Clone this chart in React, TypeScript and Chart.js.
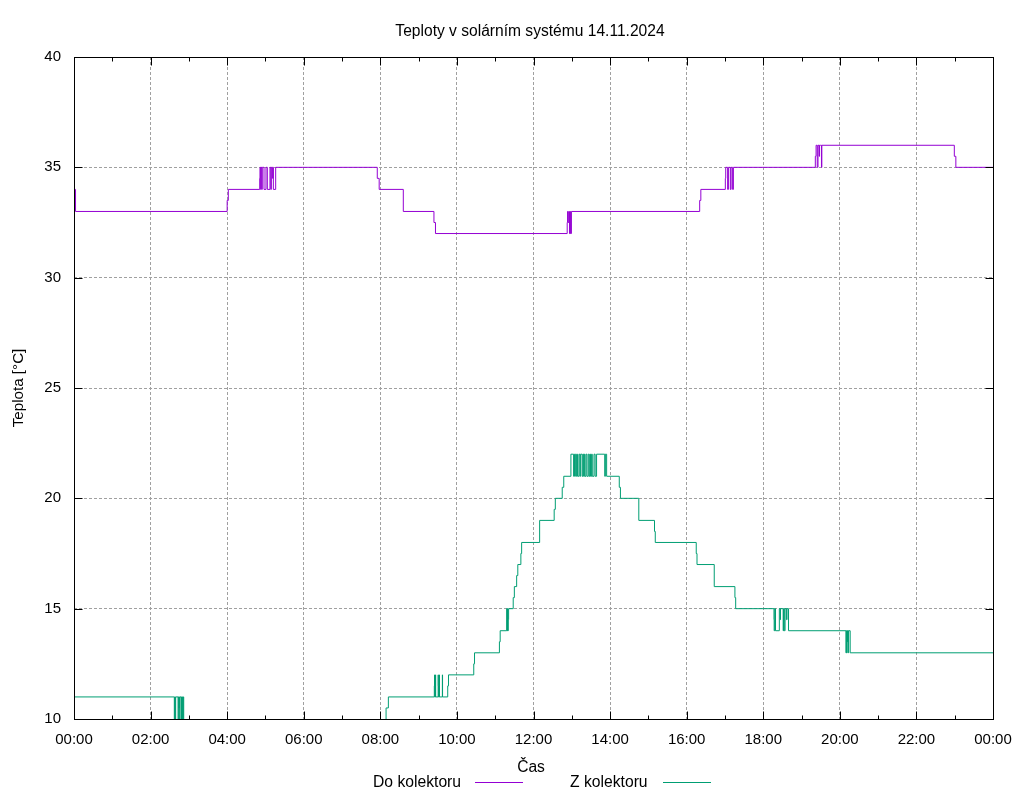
import React, { useEffect, useRef } from "react";
import { Chart, registerables } from "chart.js";

Chart.register(...registerables);

const chartTitle = "Teploty v solárním systému 14.11.2024";
const xAxisTitle = "Čas";
const yAxisTitle = "Teplota [°C]";

const xTickHours = [0, 2, 4, 6, 8, 10, 12, 14, 16, 18, 20, 22, 24];
const xTickLabels = ["00:00", "02:00", "04:00", "06:00", "08:00", "10:00", "12:00", "14:00", "16:00", "18:00", "20:00", "22:00", "00:00"];
const minorTickHours = [1, 3, 5, 7, 9, 11, 13, 15, 17, 19, 21, 23];
const yMin = 10;
const yMax = 40;
const yStep = 5;

const seriesNames = ["Do kolektoru", "Z kolektoru"];
const seriesColors = ["#9400d3", "#009e73"];

// "Do kolektoru": time of change (hours) and new value (°C)
const doTimes = [
  0, 0.04, 4.0, 4.03, 4.85, 4.857, 4.875, 4.885, 4.905, 4.915, 4.962,
  5.014, 5.049, 5.118, 5.14, 5.153, 5.188, 5.195, 5.206, 5.267, 7.92, 7.97, 8.6,
  9.4, 9.44, 12.88, 12.89, 12.9, 12.92, 12.94, 12.96, 12.97, 12.99, 16.34, 16.37, 17.01,
  17.02, 17.07, 17.09, 17.14, 17.16, 17.2, 17.22, 19.36, 19.38, 19.41, 19.43, 19.46, 19.47,
  19.5, 19.52, 19.53, 22.99, 23.03, 24,
];
const doValues = [
  34, 33, 33.5, 34, 34.5, 35, 34, 35, 34, 35, 34,
  35, 34, 35, 34, 35, 34.5, 35, 34, 35, 34.5, 34, 33,
  32.5, 32, 32.5, 33, 32.5, 33, 32, 33, 32, 33, 33.5, 34, 34.5,
  35, 34, 35, 34, 35, 34, 35, 35.5, 36, 35, 36, 35.5, 36,
  36, 35, 36, 35.5, 35, 35,
];

// "Z kolektoru": time of change (hours) and new value (°C)
const zTimes = [
  0, 2.62, 2.63, 2.645, 2.655, 2.72, 2.725, 2.74, 2.75, 2.76, 2.765, 2.8, 2.81, 2.82, 2.83,
  2.845, 2.85, 2.865, 8.15, 8.21, 9.41, 9.415, 9.42, 9.44, 9.445, 9.51, 9.515, 9.52, 9.54,
  9.545, 9.62, 9.625, 9.76, 9.78, 10.44, 10.46, 11.11, 11.13, 11.3, 11.31, 11.32, 11.33,
  11.34, 11.35, 11.47, 11.5, 11.56, 11.59, 11.67, 11.69, 12.16, 12.54, 12.57, 12.75, 12.79,
  12.977, 13.047, 13.07, 13.1, 13.125, 13.15, 13.186, 13.21, 13.23, 13.27, 13.29, 13.31,
  13.325, 13.34, 13.37, 13.395, 13.43, 13.455, 13.475, 13.49, 13.517, 13.535, 13.58, 13.61,
  13.647, 13.86, 13.877, 13.91, 14.24, 14.27, 14.75, 15.16, 15.18, 16.25, 16.27, 16.72,
  17.26, 17.28, 18.28, 18.285, 18.3, 18.32, 18.42, 18.445, 18.45, 18.52, 18.53, 18.55,
  18.57, 18.61, 18.62, 18.66, 20.16, 20.17, 20.18, 20.19, 20.2, 20.21, 20.22, 20.23, 20.27, 24,
];
const zValues = [
  11, 9, 11, 9, 11, 9, 11, 10.5, 11, 9, 11, 9, 11, 9, 11,
  9, 11, 9, 10.5, 11, 11.5, 12, 11, 12, 11, 12, 11.5, 11, 12,
  11, 12, 11, 11.5, 12, 12.5, 13, 13.5, 14, 15, 14, 15, 14,
  14.5, 15, 15.5, 16, 16.5, 17, 17.5, 18, 19, 19.5, 20, 20.5, 21,
  22, 21, 22, 21, 22, 21, 22, 21, 22, 21, 22, 21,
  22, 21, 22, 21, 22, 21, 22, 21, 22, 21, 22, 21,
  22, 21, 22, 21, 20.5, 20, 19, 18.5, 18, 17.5, 17, 16,
  15.5, 15, 14.5, 14, 15, 14, 15, 14.5, 15, 14, 15, 14,
  15, 14.5, 15, 14, 13, 14, 13, 14, 13.5, 14, 13, 14, 13, 13,
];

const FONT = "'Liberation Sans', Arial, sans-serif";

const decorPlugin = {
  id: "gnuplotDecor",
  afterDraw(chart: any) {
    const { ctx, chartArea: a, scales } = chart;
    const xs = scales.x;
    const ys = scales.y;
    ctx.save();
    ctx.strokeStyle = "#000";
    ctx.lineWidth = 1;
    ctx.setLineDash([]);
    ctx.beginPath();
    const bottom = Math.round(a.bottom) + 0.5;
    const top = Math.round(a.top) + 0.5;
    const left = Math.round(a.left) + 0.5;
    const right = Math.round(a.right) + 0.5;
    xTickHours.forEach((h) => {
      const px = Math.round(xs.getPixelForValue(h)) + 0.5;
      ctx.moveTo(px, bottom);
      ctx.lineTo(px, bottom - 8);
      ctx.moveTo(px, top);
      ctx.lineTo(px, top + 8);
    });
    minorTickHours.forEach((h) => {
      const px = Math.round(xs.getPixelForValue(h)) + 0.5;
      ctx.moveTo(px, bottom);
      ctx.lineTo(px, bottom - 4);
      ctx.moveTo(px, top);
      ctx.lineTo(px, top + 4);
    });
    ys.ticks.forEach((t: any) => {
      const py = Math.round(ys.getPixelForValue(t.value)) + 0.5;
      ctx.moveTo(left, py);
      ctx.lineTo(left + 8, py);
      ctx.moveTo(right, py);
      ctx.lineTo(right - 8, py);
    });
    ctx.stroke();
    ctx.strokeRect(left, top, right - left, bottom - top);

    ctx.fillStyle = "#000";
    // title
    ctx.font = `15.6px ${FONT}`;
    ctx.textAlign = "center";
    ctx.textBaseline = "alphabetic";
    ctx.fillText(chartTitle, 530, 35.5);
    // x title
    ctx.fillText(xAxisTitle, 531, 771.5);
    // y title
    ctx.save();
    ctx.font = `15.2px ${FONT}`;
    ctx.translate(19, (a.top + a.bottom) / 2);
    ctx.rotate(-Math.PI / 2);
    ctx.textBaseline = "middle";
    ctx.fillText(yAxisTitle, 0, 0);
    ctx.restore();

    // legend: text then line sample
    const legendItems = [
      { textX: 373, lineX1: 475, lineX2: 523 },
      { textX: 570, lineX1: 663, lineX2: 711 },
    ];
    ctx.font = `15.7px ${FONT}`;
    chart.data.datasets.forEach((ds: any, i: number) => {
      const it = legendItems[i];
      ctx.textAlign = "left";
      ctx.textBaseline = "alphabetic";
      ctx.fillStyle = "#000";
      ctx.fillText(ds.label, it.textX, 787);
      ctx.strokeStyle = ds.borderColor;
      ctx.beginPath();
      ctx.moveTo(it.lineX1, 782.5);
      ctx.lineTo(it.lineX2, 782.5);
      ctx.stroke();
    });
    ctx.restore();
  },
};

export default function App() {
  const canvasRef = useRef<HTMLCanvasElement | null>(null);

  useEffect(() => {
    const canvas = canvasRef.current;
    if (!canvas) return;
    const chart = new Chart(canvas, {
      type: "line",
      data: {
        datasets: [
          {
            label: seriesNames[0],
            data: doTimes.map((t, i) => ({ x: t, y: doValues[i] })),
            borderColor: seriesColors[0],
            backgroundColor: seriesColors[0],
            borderWidth: 1,
            pointRadius: 0,
            stepped: "before",
            fill: false,
          },
          {
            label: seriesNames[1],
            data: zTimes.map((t, i) => ({ x: t, y: zValues[i] })),
            borderColor: seriesColors[1],
            backgroundColor: seriesColors[1],
            borderWidth: 1,
            pointRadius: 0,
            stepped: "before",
            fill: false,
          },
        ],
      },
      options: {
        animation: false,
        responsive: false,
        layout: { padding: { top: 57, right: 31, left: 0, bottom: 0 } },
        plugins: {
          legend: { display: false },
          title: { display: false },
          tooltip: { enabled: false },
        },
        scales: {
          x: {
            type: "linear",
            min: 0,
            max: 24,
            afterFit: (s: any) => {
              s.height = 81;
            },
            afterBuildTicks: (s: any) => {
              s.ticks = xTickHours.map((v) => ({ value: v }));
            },
            ticks: {
              callback: (v: any) => {
                const idx = xTickHours.indexOf(Number(v));
                return idx >= 0 ? xTickLabels[idx] : "";
              },
              font: { family: FONT, size: 15 },
              color: "#000",
              padding: 12,
              maxRotation: 0,
              autoSkip: false,
            },
            grid: { color: "#a0a0a0", lineWidth: 1, drawTicks: false },
            border: { display: false, dash: [3, 2] },
          },
          y: {
            type: "linear",
            min: yMin,
            max: yMax,
            afterFit: (s: any) => {
              s.width = 74;
            },
            ticks: {
              stepSize: yStep,
              font: { family: FONT, size: 15 },
              color: "#000",
              padding: 13,
            },
            grid: { color: "#a0a0a0", lineWidth: 1, drawTicks: false },
            border: { display: false, dash: [3, 2] },
          },
        },
      },
      plugins: [decorPlugin],
    });
    return () => chart.destroy();
  }, []);

  return (
    <div style={{ position: "absolute", left: 0, top: 0, width: 1024, height: 800, background: "#fff" }}>
      <canvas ref={canvasRef} width={1024} height={800} style={{ display: "block", width: 1024, height: 800 }} />
    </div>
  );
}
